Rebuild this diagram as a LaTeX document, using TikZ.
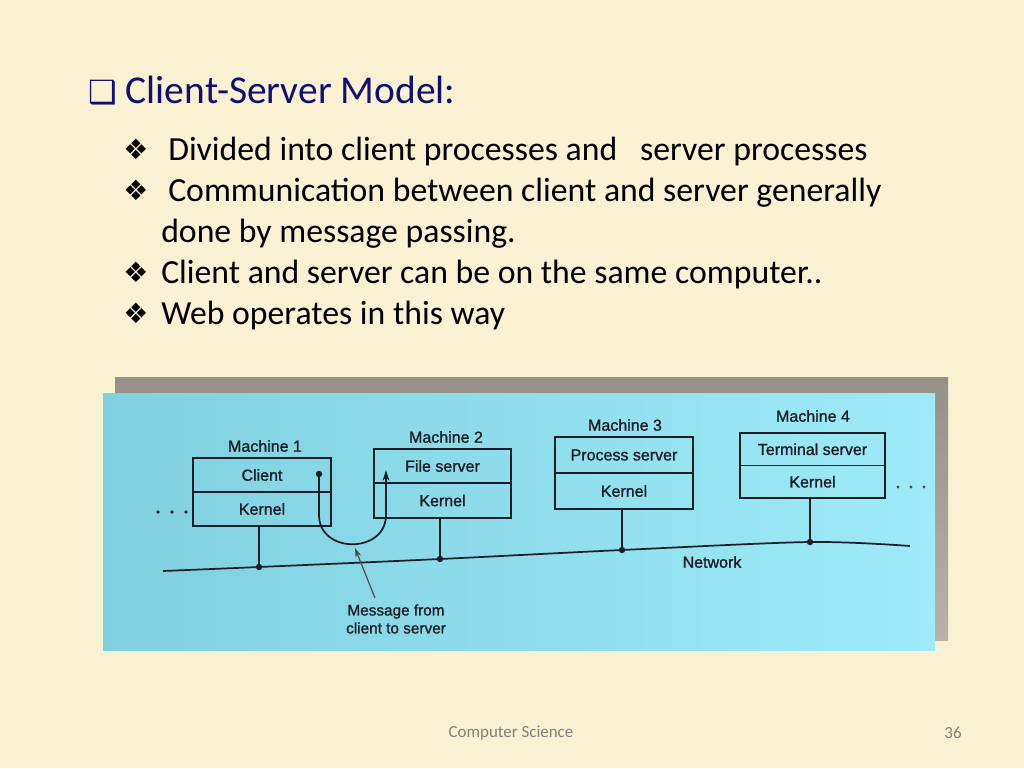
\documentclass[tikz,border=0pt]{standalone}
\usepackage{fontspec}
\setmainfont{Carlito}
\newfontfamily\symfont{DejaVu Sans}
\newfontfamily\diagfont[FakeBold=1.2]{Liberation Sans}
\usetikzlibrary{arrows.meta}
\definecolor{bgcream}{RGB}{250,240,210}
\definecolor{navy}{RGB}{16,16,112}
\definecolor{panelL}{RGB}{128,208,224}
\definecolor{panelR}{RGB}{158,234,248}
\definecolor{shadowgray}{RGB}{185,178,164}
\definecolor{shadowdark}{RGB}{150,144,134}
\definecolor{ink}{RGB}{28,30,38}
\definecolor{footgray}{RGB}{130,128,124}
\tikzset{
  part/.style={draw=ink, line width=1.3pt, inner sep=0pt, font=\diagfont\fontsize{12}{14}\selectfont, text=ink},
  lbl/.style={font=\diagfont\fontsize{12}{14}\selectfont, text=ink, inner sep=0pt},
  wire/.style={draw=ink, line width=1.3pt},
  bullettext/.style={anchor=base west, inner sep=0pt, font=\fontsize{25.3}{30}\selectfont},
  bulletsym/.style={anchor=base west, inner sep=0pt, font=\symfont\fontsize{21}{24}\selectfont},
}
\begin{document}
\begin{tikzpicture}[x=0.75pt,y=-0.75pt]
\path[use as bounding box, fill=bgcream] (0,0) rectangle (1024,768);
% title
\node[anchor=base west, inner sep=0pt, text=navy, font=\fontsize{29.6}{34}\selectfont] (title) at (88,103) {{\symfont\fontsize{24}{26}\selectfont ❑} Client-Server Model:};
% bullets
\node[bulletsym] (b1s) at (123,159) {❖};
\node[bullettext] (b1) at (168,160) {Divided into client processes and \ \ server processes};
\node[bulletsym] (b2s) at (123,200) {❖};
\node[bullettext] (b2) at (168,201) {Communication between client and server generally};
\node[bullettext] (b3) at (161,242) {done by message passing.};
\node[bulletsym] (b4s) at (123,282) {❖};
\node[bullettext] (b4) at (161,283) {Client and server can be on the same computer..};
\node[bulletsym] (b5s) at (123,323) {❖};
\node[bullettext] (b5) at (161,324) {Web operates in this way};
% panel
\shade[top color=shadowdark, bottom color=shadowgray] (115,377) rectangle (948,640);
\shade[left color=panelL, right color=panelR] (103,393) rectangle (935,650);
% machines
\node[part, minimum width=103.5pt, minimum height=25.5pt] (c1) at (262,475) {Client};
\node[part, minimum width=103.5pt, minimum height=25.5pt] (k1) at (262,509) {Kernel};
\node[lbl] (m1) at (265,446) {Machine 1};
\node[part, minimum width=102.75pt, minimum height=25.9pt] (c2) at (442.5,466) {File server};
\node[part, minimum width=102.75pt, minimum height=25.9pt] (k2) at (442.5,500.5) {Kernel};
\node[lbl] (m2) at (446,437) {Machine 2};
\node[part, minimum width=103.5pt, minimum height=27pt] (c3) at (624,455) {Process server};
\node[part, minimum width=103.5pt, minimum height=27pt] (k3) at (624,491) {Kernel};
\node[lbl] (m3) at (625,425) {Machine 3};
\node[part, minimum width=108.75pt, minimum height=24.4pt] (c4) at (812.5,449.25) {Terminal server};
\node[part, minimum width=108.75pt, minimum height=24.4pt] (k4) at (812.5,481.75) {Kernel};
\node[lbl] (m4) at (813,416) {Machine 4};
% dots
\foreach \x in {158,172,186} \fill[ink] (\x,512) circle (1.9);
\foreach \x in {898,911,924} \fill[ink!80] (\x,487) circle (1.7);
% network
\coordinate (nl) at (163,571);
\coordinate (n1) at (259,567);
\coordinate (n2) at (440,559);
\coordinate (n3) at (622,550);
\coordinate (n4) at (810,542);
\coordinate (nr) at (910,546);
\draw[wire] plot[smooth, tension=0.5] coordinates {(nl) (n1) (n2) (n3) (n4) (nr)};
\draw[wire] (k1.south -| n1) -- (n1);
\draw[wire] (k2.south -| n2) -- (n2);
\draw[wire] (k3.south -| n3) -- (n3);
\draw[wire] (k4.south -| n4) -- (n4);
\foreach \n in {n1,n2,n3,n4} \fill[ink] (\n) circle (3.2);
\node[lbl] (net) at (712,562) {Network};
% message
\coordinate (cd) at (319,474);
\coordinate (fs) at (386,470);
\fill[ink] (cd) circle (3.2);
\draw[wire, -{Stealth[length=8pt,width=5pt]}] (cd) -- (319,515) .. controls (319,554) and (386,554) .. (386,515) -- (fs);
\node[lbl, align=center, font=\diagfont\fontsize{11.5}{13.5}\selectfont] (msg) at (396,619) {Message from\\client to server};
\coordinate (mtail) at (375,598);
\coordinate (mp) at (355,548);
\draw[draw=ink!80, line width=0.9pt, -{Stealth[length=7pt,width=4.5pt]}] (mtail) -- (mp);
% footer
\node[inner sep=0pt, text=footgray, font=\fontsize{12.7}{14}\selectfont] (foot) at (511,733) {Computer Science};
\node[inner sep=0pt, text=footgray, font=\fontsize{12.7}{14}\selectfont] (page) at (953,733) {36};
\end{tikzpicture}
\end{document}
